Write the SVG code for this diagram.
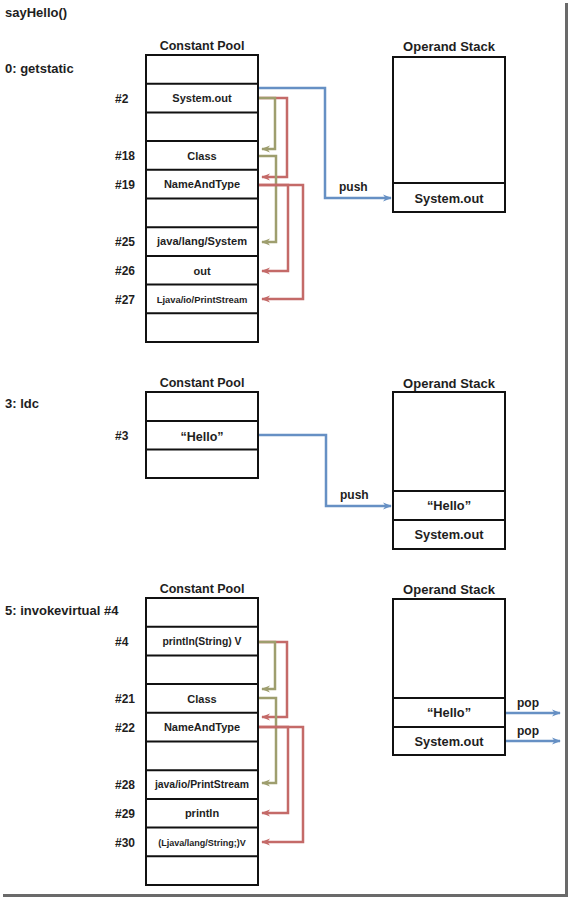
<svg xmlns="http://www.w3.org/2000/svg" width="571" height="899" viewBox="0 0 571 899">
<style>
text{font-family:"Liberation Sans",Arial,Helvetica,sans-serif;font-weight:bold;fill:#1e1e1e}
.t13{font-size:13px}
.t12{font-size:12px}
.title{font-size:12.5px;text-anchor:middle}
.ttl2{font-size:13px;text-anchor:middle}
.c{text-anchor:middle}
.box{fill:#fff;stroke:#111;stroke-width:2}
.div{stroke:#111;stroke-width:2}
.b{fill:none;stroke:#6690c4;stroke-width:2.5}
.r{fill:none;stroke:#c46a68;stroke-width:2.5}
.o{fill:none;stroke:#9e9e6e;stroke-width:2.5}
</style>
<defs>
<marker id="mb" viewBox="0 0 10 10" refX="9" refY="5" markerWidth="9" markerHeight="9" orient="auto" markerUnits="userSpaceOnUse"><path d="M0,1 L10,5 L0,9 L3,5 z" fill="#6690c4"/></marker>
<marker id="mr" viewBox="0 0 10 10" refX="9" refY="5" markerWidth="9" markerHeight="9" orient="auto" markerUnits="userSpaceOnUse"><path d="M0,1 L10,5 L0,9 L3,5 z" fill="#c46a68"/></marker>
<marker id="mo" viewBox="0 0 10 10" refX="9" refY="5" markerWidth="9" markerHeight="9" orient="auto" markerUnits="userSpaceOnUse"><path d="M0,1 L10,5 L0,9 L3,5 z" fill="#9e9e6e"/></marker>
</defs>
<rect width="571" height="899" fill="#fff"/>
<line x1="566.5" y1="3" x2="566.5" y2="896" stroke="#6a6a6a" stroke-width="3"/>
<line x1="3" y1="895.5" x2="568" y2="895.5" stroke="#6a6a6a" stroke-width="3"/>

<g id="labels">
<text class="t13" x="5" y="17">sayHello()</text>
<text class="t13" x="5" y="72.5">0: getstatic</text>
<text class="t13" x="5" y="407.5">3: ldc</text>
<text class="t13" x="5" y="614.5">5: invokevirtual #4</text>
</g>

<g id="cp1">
<text class="title" x="202" y="49.5">Constant Pool</text>
<rect class="box" x="146" y="55" width="112" height="287"/>
<path class="div" d="M146,83.7H258M146,112.4H258M146,141.1H258M146,169.8H258M146,198.5H258M146,227.2H258M146,255.9H258M146,284.6H258M146,313.3H258"/>
<text class="t12" x="115" y="102.5">#2</text>
<text class="t12" x="115" y="160">#18</text>
<text class="t12" x="115" y="188.5">#19</text>
<text class="t12" x="115" y="246">#25</text>
<text class="t12" x="115" y="274.5">#26</text>
<text class="t12" x="115" y="303.5">#27</text>
<text class="c" x="202" y="102" font-size="11">System.out</text>
<text class="c" x="202" y="159.5" font-size="11">Class</text>
<text class="c" x="202" y="188" font-size="11">NameAndType</text>
<text class="c" x="202" y="245" font-size="10.5" textLength="90" lengthAdjust="spacingAndGlyphs">java/lang/System</text>
<text class="c" x="202" y="274.5" font-size="11">out</text>
<text class="c" x="202" y="302.5" font-size="9.4">Ljava/io/PrintStream</text>
</g>

<g id="os1">
<text class="ttl2" x="449" y="50.5">Operand Stack</text>
<rect class="box" x="393" y="57" width="112" height="155"/>
<path class="div" d="M393,183H505"/>
<text class="c" x="449" y="202.5" font-size="12.8">System.out</text>
</g>

<g id="cp2">
<text class="title" x="202" y="386.5">Constant Pool</text>
<rect class="box" x="146" y="392" width="112" height="86"/>
<path class="div" d="M146,421H258M146,449.5H258"/>
<text class="t12" x="115" y="440">#3</text>
<text class="c" x="202" y="440.5" font-size="12.5">“Hello”</text>
</g>

<g id="os2">
<text class="ttl2" x="449" y="387.5">Operand Stack</text>
<rect class="box" x="393" y="392" width="112" height="157"/>
<path class="div" d="M393,491H505M393,520H505"/>
<text class="c" x="449" y="510" font-size="12.8">“Hello”</text>
<text class="c" x="449" y="539" font-size="12.8">System.out</text>
</g>

<g id="cp3">
<text class="title" x="202" y="592.5">Constant Pool</text>
<rect class="box" x="146" y="598" width="112" height="287"/>
<path class="div" d="M146,626.7H258M146,655.4H258M146,684.1H258M146,712.8H258M146,741.5H258M146,770.2H258M146,798.9H258M146,827.6H258M146,856.3H258"/>
<text class="t12" x="115" y="645.5">#4</text>
<text class="t12" x="115" y="703">#21</text>
<text class="t12" x="115" y="731.5">#22</text>
<text class="t12" x="115" y="789">#28</text>
<text class="t12" x="115" y="817.5">#29</text>
<text class="t12" x="115" y="846.5">#30</text>
<text class="c" x="202" y="645" font-size="10.4">println(String) V</text>
<text class="c" x="202" y="702.5" font-size="11">Class</text>
<text class="c" x="202" y="731" font-size="11">NameAndType</text>
<text class="c" x="202" y="788" font-size="10.4">java/io/PrintStream</text>
<text class="c" x="202" y="817" font-size="11">println</text>
<text class="c" x="202" y="845.5" font-size="9">(Ljava/lang/String;)V</text>
</g>

<g id="os3">
<text class="ttl2" x="449" y="593.5">Operand Stack</text>
<rect class="box" x="393" y="599" width="112" height="156"/>
<path class="div" d="M393,698H505M393,727H505"/>
<text class="c" x="449" y="717" font-size="12.8">“Hello”</text>
<text class="c" x="449" y="745.5" font-size="12.8">System.out</text>
</g>

<g id="connectors">
<path class="b" d="M259,88H325V198H391" marker-end="url(#mb)"/>
<text class="t12" x="339" y="191">push</text>
<path class="r" d="M259,98H287V177H262" marker-end="url(#mr)"/>
<path class="o" d="M259,98H275V149H262" marker-end="url(#mo)"/>
<path class="o" d="M259,156H276V242H262" marker-end="url(#mo)"/>
<path class="r" d="M259,185H303V299H262" marker-end="url(#mr)"/>
<path class="r" d="M259,185H288V271H262" marker-end="url(#mr)"/>

<path class="b" d="M259,435H326V506H391" marker-end="url(#mb)"/>
<text class="t12" x="340" y="499">push</text>

<path class="r" d="M259,642H287V717H262" marker-end="url(#mr)"/>
<path class="o" d="M259,642H275V689H262" marker-end="url(#mo)"/>
<path class="o" d="M259,698H276V783H262" marker-end="url(#mo)"/>
<path class="r" d="M259,727H303V842H262" marker-end="url(#mr)"/>
<path class="r" d="M259,727H288V813H262" marker-end="url(#mr)"/>

<path class="b" d="M506,713H560" marker-end="url(#mb)"/>
<path class="b" d="M506,741H560" marker-end="url(#mb)"/>
<text class="t12" x="517" y="707">pop</text>
<text class="t12" x="517" y="735">pop</text>
</g>
</svg>
